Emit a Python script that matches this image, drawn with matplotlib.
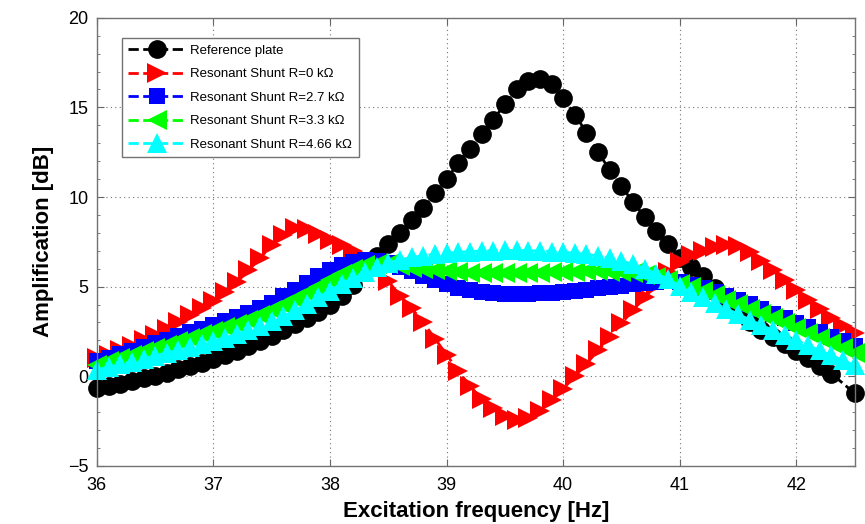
import numpy as np
import matplotlib
matplotlib.use('Agg')
import matplotlib.pyplot as plt
from matplotlib.ticker import MultipleLocator

# excitation frequency [Hz], 0.1 Hz step
freq = [round(36.0 + 0.1 * i, 1) for i in range(66)]
# reference plate has no sample at 42.4 Hz
freq_ref = [f for f in freq if f != 42.4]

amp_ref = [-0.65, -0.55, -0.42, -0.28, -0.12, 0.03, 0.2, 0.38, 0.57, 0.76,
           0.96, 1.18, 1.42, 1.68, 1.95, 2.25, 2.57, 2.9, 3.25, 3.6,
           3.95, 4.45, 5.1, 5.9, 6.7, 7.4, 8.0, 8.7, 9.4, 10.2,
           11.0, 11.9, 12.7, 13.5, 14.3, 15.2, 16.0, 16.5, 16.6, 16.3,
           15.5, 14.6, 13.6, 12.5, 11.5, 10.6, 9.7, 8.9, 8.1, 7.4,
           6.6, 6.1, 5.6, 4.9, 4.2, 3.5, 3.0, 2.6, 2.2, 1.8,
           1.4, 1.0, 0.55, 0.15, -0.95]

amp_r0 = [1.0, 1.2, 1.45, 1.7, 2.0, 2.3, 2.65, 3.0, 3.4, 3.8,
          4.2, 4.7, 5.25, 5.9, 6.6, 7.3, 7.9, 8.25, 8.2, 7.95,
          7.6, 7.3, 7.0, 6.6, 6.0, 5.3, 4.5, 3.8, 3.0, 2.1,
          1.2, 0.3, -0.55, -1.25, -1.8, -2.2, -2.45, -2.35, -1.95, -1.35,
          -0.7, 0.0, 0.7, 1.45, 2.2, 2.95, 3.7, 4.4, 5.1, 5.8,
          6.35, 6.75, 7.0, 7.2, 7.3, 7.25, 6.95, 6.45, 5.9, 5.35,
          4.8, 4.25, 3.75, 3.25, 2.8, 2.4]

amp_r27 = [0.85, 1.03, 1.22, 1.42, 1.62, 1.83, 2.04, 2.25, 2.45, 2.65,
           2.85, 3.07, 3.3, 3.55, 3.8, 4.1, 4.45, 4.8, 5.2, 5.6,
           5.95, 6.2, 6.4, 6.5, 6.45, 6.3, 6.1, 5.85, 5.6, 5.35,
           5.12, 4.94, 4.8, 4.7, 4.63, 4.6, 4.59, 4.6, 4.62, 4.66,
           4.7, 4.76, 4.83, 4.9, 4.98, 5.06, 5.13, 5.2, 5.26, 5.29,
           5.25, 5.1, 4.92, 4.72, 4.5, 4.27, 4.02, 3.76, 3.5, 3.24,
           2.98, 2.72, 2.46, 2.2, 1.95, 1.7]

amp_r33 = [0.65, 0.83, 1.01, 1.2, 1.39, 1.58, 1.77, 1.96, 2.15, 2.33,
           2.52, 2.72, 2.93, 3.16, 3.4, 3.67, 3.97, 4.3, 4.65, 5.0,
           5.35, 5.7, 5.98, 6.18, 6.28, 6.25, 6.15, 6.05, 5.97, 5.9,
           5.85, 5.8, 5.77, 5.75, 5.74, 5.74, 5.75, 5.76, 5.78, 5.8,
           5.82, 5.84, 5.85, 5.85, 5.84, 5.8, 5.74, 5.65, 5.52, 5.36,
           5.17, 4.96, 4.74, 4.51, 4.27, 4.02, 3.76, 3.5, 3.23, 2.96,
           2.69, 2.42, 2.15, 1.88, 1.6, 1.32]

amp_r466 = [0.35, 0.5, 0.66, 0.82, 0.98, 1.14, 1.3, 1.46, 1.62, 1.79,
            1.96, 2.14, 2.34, 2.56, 2.8, 3.06, 3.35, 3.67, 4.02, 4.4,
            4.78, 5.15, 5.5, 5.82, 6.1, 6.33, 6.5, 6.63, 6.73, 6.81,
            6.87, 6.92, 6.96, 6.99, 7.01, 7.02, 7.02, 7.01, 6.99, 6.96,
            6.92, 6.87, 6.8, 6.71, 6.59, 6.44, 6.25, 6.0, 5.72, 5.4,
            5.05, 4.72, 4.4, 4.08, 3.77, 3.46, 3.15, 2.85, 2.56, 2.28,
            2.0, 1.72, 1.44, 1.16, 0.88, 0.6]

labels = ['Reference plate',
          'Resonant Shunt R=0 k\u03a9',
          'Resonant Shunt R=2.7 k\u03a9',
          'Resonant Shunt R=3.3 k\u03a9',
          'Resonant Shunt R=4.66 k\u03a9']

plt.rcParams['font.family'] = ['Liberation Sans', 'DejaVu Sans']

fig = plt.figure(figsize=(8.65, 5.24), dpi=100)
ax = fig.add_axes([0.112, 0.111, 0.876, 0.855])

series = [
    (freq_ref, amp_ref, '#000000', 'o', 13.5),
    (freq, amp_r0, '#ff0000', '>', 15),
    (freq, amp_r27, '#0000ff', 's', 11),
    (freq, amp_r33, '#00ff00', '<', 15),
    (freq, amp_r466, '#00ffff', '^', 15),
]
for (x, y, col, mk, ms), lab in zip(series, labels):
    ax.plot(x, y, linestyle='--', color=col, marker=mk, markersize=ms,
            markeredgewidth=0, linewidth=2, label=lab, clip_on=False)

ax.set_xlim(36, 42.5)
ax.set_ylim(-5, 20)
ax.xaxis.set_major_locator(MultipleLocator(1))
ax.yaxis.set_major_locator(MultipleLocator(5))
ax.yaxis.set_minor_locator(MultipleLocator(1))
ax.grid(True, which='major', linestyle=(0, (1, 3)), color='0.45', linewidth=0.8)
ax.tick_params(direction='in', which='both', top=True, right=True,
               labelsize=13, color='0.4')
ax.tick_params(axis='x', pad=8)
ax.tick_params(axis='y', pad=6)
ax.tick_params(which='major', length=5)
ax.tick_params(which='minor', length=2.5)
for sp in ax.spines.values():
    sp.set_color('0.45')
    sp.set_linewidth(1)

ax.set_xlabel('Excitation frequency [Hz]', fontsize=16, fontweight='bold', labelpad=5)
ax.set_ylabel('Amplification [dB]', fontsize=16, fontweight='bold', labelpad=10)

leg = ax.legend(loc='upper left', bbox_to_anchor=(0.033, 0.955), borderaxespad=0,
                fontsize=9.5, handlelength=4.3, labelspacing=0.85, fancybox=False,
                framealpha=1, borderpad=0.5, handletextpad=0.4)
leg.get_frame().set_edgecolor('0.45')
leg.get_frame().set_linewidth(1)

fig.savefig('out.png', dpi=100)
